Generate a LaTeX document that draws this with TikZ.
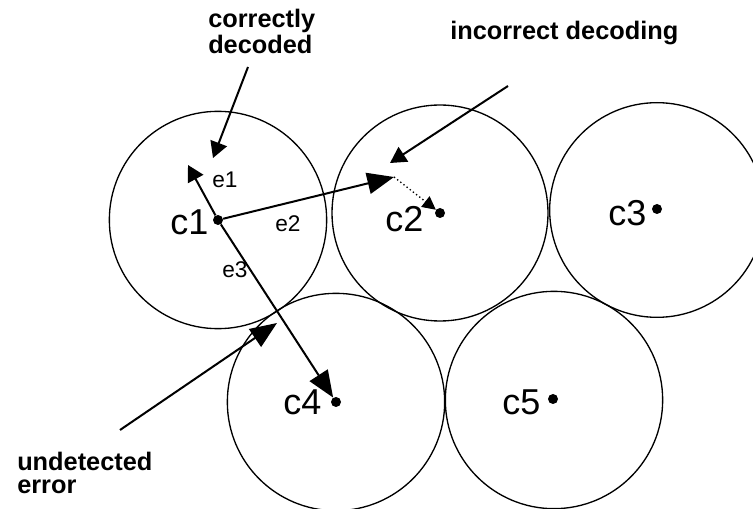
\documentclass[tikz,border=0pt]{standalone}
\usepackage{fontspec}
\setmainfont{Liberation Sans}
\usetikzlibrary{arrows.meta}
\tikzset{
	dotstyle/.style={circle,fill=black,inner sep=0pt,minimum size=7.5pt},
	wordstyle/.style={inner sep=0pt,anchor=base west,font=\fontsize{27}{27}\selectfont},
	errstyle/.style={inner sep=0pt,anchor=base west,font=\fontsize{17}{17}\selectfont},
	notestyle/.style={inner sep=0pt,align=left,font=\bfseries\fontsize{19}{19.5}\selectfont},
	ballstyle/.style={draw=black,line width=1pt},
	bigtip/.style={line width=1.5pt,-{Triangle[length=20pt,width=16pt]}},
	smalltip/.style={line width=1.5pt,-{Triangle[length=12pt,width=13pt]}}
}
\begin{document}
\begin{tikzpicture}[x=0.75pt,y=-0.75pt]
	\useasboundingbox (0,0) rectangle (753,509);
	\draw[ballstyle] (218,220) circle[radius=81.5pt];
	\draw[ballstyle] (440,213) circle[radius=81pt];
	\draw[ballstyle] (657,210) circle[radius=80.5pt];
	\draw[ballstyle] (336,402) circle[radius=81.5pt];
	\draw[ballstyle] (554,400) circle[radius=81.5pt];
	\node[dotstyle] (c1) at (218,220) {};
	\node[dotstyle] (c2) at (440,213) {};
	\node[dotstyle] (c3) at (657,209) {};
	\node[dotstyle] (c4) at (336,402) {};
	\node[dotstyle] (c5) at (553,399) {};
	\node[wordstyle] (l1) at (170,235) {c1};
	\node[wordstyle] (l2) at (385,232) {c2};
	\node[wordstyle] (l3) at (608,226) {c3};
	\node[wordstyle] (l4) at (283,414) {c4};
	\node[wordstyle] (l5) at (502,414) {c5};
	\node[errstyle] (e1) at (212,188) {e1};
	\node[errstyle] (e2) at (275,232) {e2};
	\node[errstyle] (e3) at (222,278) {e3};
	\node[notestyle,anchor=north west] (ok) at (208,9) {correctly\\decoded};
	\node[notestyle,anchor=base west] (bad) at (450,40) {incorrect decoding};
	\node[notestyle,anchor=north west] (miss) at (17,452) {undetected\\[-2pt]error};
	\coordinate (e1tip) at (188,165);
	\coordinate (e2tip) at (394,177);
	\coordinate (okstart) at (248,67);
	\coordinate (oktip) at (213,158);
	\coordinate (badstart) at (508,86);
	\coordinate (badtip) at (390,163);
	\coordinate (missstart) at (120,430);
	\coordinate (misstip) at (277,323);
	\draw[smalltip] (c1)--(e1tip);
	\draw[bigtip] (c1)--(e2tip);
	\draw[bigtip] (c1)--(c4);
	\draw[dotted,line width=1pt,-{Triangle[length=10pt,width=10pt]}] (e2tip)--(c2);
	\draw[smalltip] (okstart)--(oktip);
	\draw[smalltip] (badstart)--(badtip);
	\draw[bigtip] (missstart)--(misstip);
\end{tikzpicture}
\end{document}
